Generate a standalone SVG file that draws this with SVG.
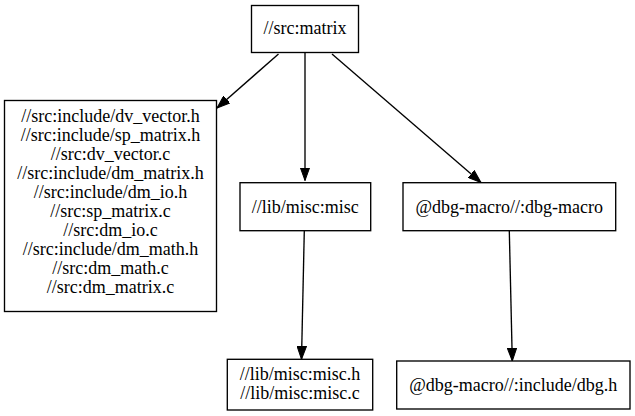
<svg xmlns="http://www.w3.org/2000/svg" width="635" height="416" viewBox="0 0 635 416">
<defs>
<marker id="arr" markerUnits="userSpaceOnUse" markerWidth="14" markerHeight="10" refX="13" refY="5" orient="auto">
<path d="M0,0.3 L13,5 L0,9.7 Z" fill="#000" stroke="#000" stroke-width="1"/>
</marker>
<style>
.box{fill:#fff;stroke:#000;stroke-width:1.35}
.t{font-size:18px;fill:#000;text-anchor:middle}
.e{fill:none;stroke:#000;stroke-width:1.35;marker-end:url(#arr)}
</style>
</defs>
<rect width="635" height="416" fill="#fff"/>
<g id="edges">
<line class="e" x1="278.5" y1="54" x2="217" y2="108"/>
<line class="e" x1="305" y1="53" x2="305" y2="180.5"/>
<line class="e" x1="332" y1="54" x2="481" y2="182.5"/>
<line class="e" x1="304.3" y1="230.7" x2="301.5" y2="359.3"/>
<line class="e" x1="509.3" y1="230.7" x2="512.3" y2="361"/>
</g>
<g font-family="'Liberation Serif', 'Times New Roman', serif">
<g id="n_matrix">
<rect class="box" x="251.5" y="5.5" width="107" height="47"/>
<text class="t" x="305" y="34">//src:matrix</text>
</g>
<g id="n_srcs">
<rect class="box" x="4.5" y="100.5" width="212" height="211"/>
<text class="t" x="110.5" y="122">//src:include/dv_vector.h</text>
<text class="t" x="110.5" y="141">//src:include/sp_matrix.h</text>
<text class="t" x="110.5" y="160">//src:dv_vector.c</text>
<text class="t" x="110.5" y="179">//src:include/dm_matrix.h</text>
<text class="t" x="110.5" y="198">//src:include/dm_io.h</text>
<text class="t" x="110.5" y="217">//src:sp_matrix.c</text>
<text class="t" x="110.5" y="236">//src:dm_io.c</text>
<text class="t" x="110.5" y="255">//src:include/dm_math.h</text>
<text class="t" x="110.5" y="274">//src:dm_math.c</text>
<text class="t" x="110.5" y="293">//src:dm_matrix.c</text>
</g>
<g id="n_misc">
<rect class="box" x="240" y="182.7" width="130.7" height="48"/>
<text class="t" x="305.3" y="213">//lib/misc:misc</text>
</g>
<g id="n_dbgmacro">
<rect class="box" x="403" y="182.7" width="212.7" height="48"/>
<text class="t" x="509.3" y="213">@dbg-macro//:dbg-macro</text>
</g>
<g id="n_miscfiles">
<rect class="box" x="227.3" y="359.3" width="145.4" height="50.7"/>
<text class="t" x="300" y="380.3">//lib/misc:misc.h</text>
<text class="t" x="300" y="399">//lib/misc:misc.c</text>
</g>
<g id="n_dbgh">
<rect class="box" x="396.7" y="361" width="233.3" height="48"/>
<text class="t" x="513.3" y="390.5">@dbg-macro//:include/dbg.h</text>
</g>
</g>
</svg>
